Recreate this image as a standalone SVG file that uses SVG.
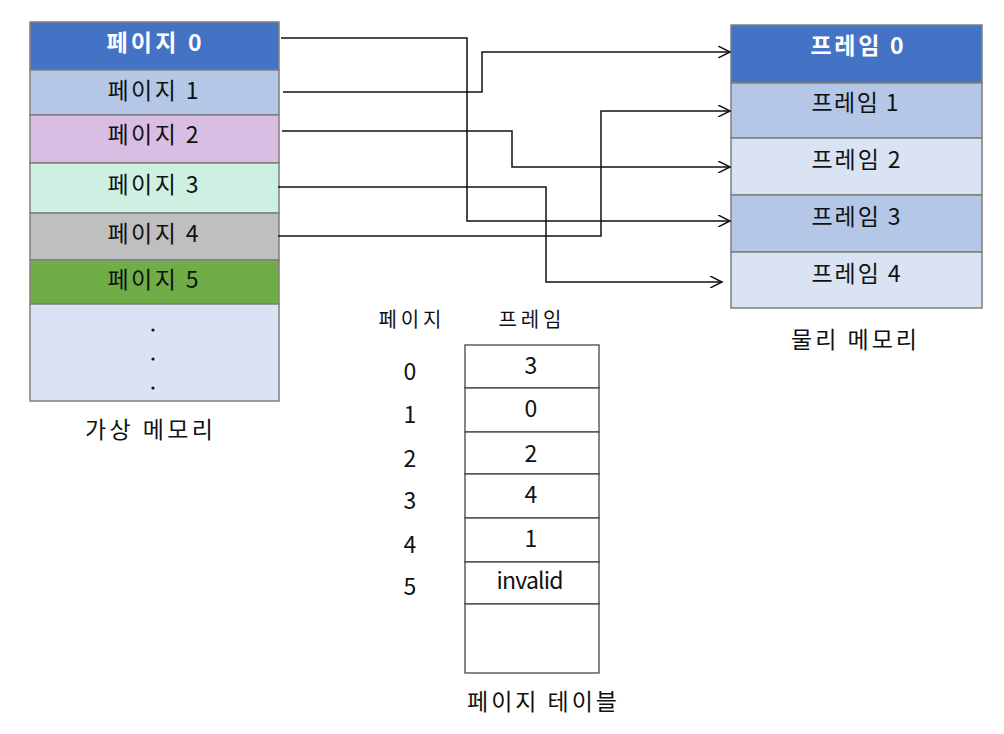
<svg xmlns="http://www.w3.org/2000/svg" width="1004" height="734" viewBox="0 0 1004 734">
<style>
.cell{stroke:#7f7f7f;stroke-width:1.5}
.t{font-family:"Noto Sans CJK KR","Noto Sans",sans-serif;font-size:23px;fill:#111;text-anchor:middle;dominant-baseline:central}
.w{fill:#fff;font-weight:bold}
.s{font-size:20px}
.conn{fill:none;stroke:#111;stroke-width:1.5}
.tb{fill:#fff;stroke:#444;stroke-width:1.3}
</style>
<defs>
<marker id="arr" markerWidth="14" markerHeight="12" refX="12" refY="6" orient="auto" markerUnits="userSpaceOnUse">
<path d="M0,0 L12,6 L0,12" fill="none" stroke="#111" stroke-width="1.5"/>
</marker>
</defs>
<rect width="1004" height="734" fill="#fff"/>
<g id="virtual-memory">
<g id="page0"><rect class="cell" x="30" y="22" width="249" height="48" fill="#4472c4"/><text class="t w" x="154" y="41" textLength="95" lengthAdjust="spacing">페이지 0</text></g>
<g id="page1"><rect class="cell" x="30" y="70" width="249" height="45" fill="#b4c7e7"/><text class="t" x="153" y="89" textLength="91" lengthAdjust="spacing">페이지 1</text></g>
<g id="page2"><rect class="cell" x="30" y="115" width="249" height="48" fill="#d9bde2"/><text class="t" x="153" y="133" textLength="91" lengthAdjust="spacing">페이지 2</text></g>
<g id="page3"><rect class="cell" x="30" y="163" width="249" height="50" fill="#cdf0e2"/><text class="t" x="153" y="183" textLength="91" lengthAdjust="spacing">페이지 3</text></g>
<g id="page4"><rect class="cell" x="30" y="213" width="249" height="47" fill="#bfbfbf"/><text class="t" x="153" y="232" textLength="91" lengthAdjust="spacing">페이지 4</text></g>
<g id="page5"><rect class="cell" x="30" y="260" width="249" height="44" fill="#70ad47"/><text class="t" x="153" y="278" textLength="91" lengthAdjust="spacing">페이지 5</text></g>
<g id="page-rest"><rect class="cell" x="30" y="304" width="249" height="97" fill="#dae3f3"/>
<circle cx="153" cy="330" r="1.6" fill="#111"/><circle cx="153" cy="359" r="1.6" fill="#111"/><circle cx="153" cy="388" r="1.6" fill="#111"/></g>
<text class="t" x="149" y="428" textLength="128" lengthAdjust="spacing">가상 메모리</text>
</g>
<g id="physical-memory">
<g id="frame0"><rect class="cell" x="731" y="25" width="251" height="58" fill="#4472c4"/><text class="t w" x="857" y="44" textLength="93" lengthAdjust="spacing">프레임 0</text></g>
<g id="frame1"><rect class="cell" x="731" y="83" width="251" height="55" fill="#b4c7e7"/><text class="t" x="855" y="101" textLength="87" lengthAdjust="spacing">프레임 1</text></g>
<g id="frame2"><rect class="cell" x="731" y="138" width="251" height="57" fill="#dae3f3"/><text class="t" x="856" y="158" textLength="89" lengthAdjust="spacing">프레임 2</text></g>
<g id="frame3"><rect class="cell" x="731" y="195" width="251" height="57" fill="#b4c7e7"/><text class="t" x="856" y="215" textLength="89" lengthAdjust="spacing">프레임 3</text></g>
<g id="frame4"><rect class="cell" x="731" y="252" width="251" height="56" fill="#dae3f3"/><text class="t" x="856" y="272" textLength="89" lengthAdjust="spacing">프레임 4</text></g>
<text class="t" x="854" y="338" textLength="126" lengthAdjust="spacing">물리 메모리</text>
</g>
<g id="connectors">
<polyline class="conn" points="281,38 467,38 467,221 730,221" marker-end="url(#arr)"/>
<polyline class="conn" points="283,92 482,92 482,52 730,52" marker-end="url(#arr)"/>
<polyline class="conn" points="282,131 512,131 512,167 730,167" marker-end="url(#arr)"/>
<polyline class="conn" points="278,187 546,187 546,282 722,282" marker-end="url(#arr)"/>
<polyline class="conn" points="278,236 601,236 601,111 730,111" marker-end="url(#arr)"/>
</g>
<g id="page-table">
<text class="t s" x="410" y="318" textLength="63" lengthAdjust="spacing">페이지</text>
<text class="t s" x="530" y="318" textLength="63" lengthAdjust="spacing">프레임</text>
<rect class="tb" x="465" y="345" width="134" height="43"/>
<rect class="tb" x="465" y="388" width="134" height="44"/>
<rect class="tb" x="465" y="432" width="134" height="42"/>
<rect class="tb" x="465" y="474" width="134" height="44"/>
<rect class="tb" x="465" y="518" width="134" height="44"/>
<rect class="tb" x="465" y="562" width="134" height="42"/>
<rect class="tb" x="465" y="604" width="134" height="69"/>
<text class="t" x="410" y="370">0</text>
<text class="t" x="410" y="413">1</text>
<text class="t" x="410" y="457">2</text>
<text class="t" x="410" y="499">3</text>
<text class="t" x="410" y="543">4</text>
<text class="t" x="410" y="585">5</text>
<text class="t" x="531" y="364">3</text>
<text class="t" x="531" y="407">0</text>
<text class="t" x="531" y="452">2</text>
<text class="t" x="531" y="493">4</text>
<text class="t" x="531" y="537">1</text>
<text class="t" x="530" y="579" textLength="67" lengthAdjust="spacing">invalid</text>
<text class="t" x="542" y="700" textLength="150" lengthAdjust="spacing">페이지 테이블</text>
</g>
</svg>
